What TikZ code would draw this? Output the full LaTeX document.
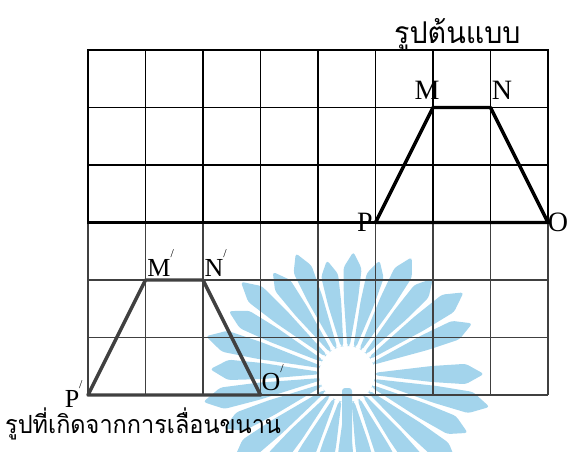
\documentclass[tikz,border=0pt]{standalone}
\usepackage{fontspec}
\setmainfont{Liberation Serif}
\newfontfamily\thaifont[Script=Thai]{Loma}
\definecolor{wmblue}{RGB}{163,212,236}
\definecolor{lowgray}{RGB}{64,64,64}
\newcommand\myprime{\rlap{\raisebox{0.7em}{\fontsize{12}{12}\selectfont /}}}
\begin{document}
\begin{tikzpicture}[x=1pt,y=-1pt,
  topgrid/.style={black,line width=1.8pt},
  topframe/.style={black,line width=2.4pt},
  lowgrid/.style={lowgray,line width=1.8pt},
  shapetop/.style={black,line width=3.4pt,line join=round},
  shapelow/.style={lowgray,line width=3.4pt,line join=round},
  lbl/.style={font=\fontsize{28}{28}\selectfont,inner sep=0pt},
  lbls/.style={font=\fontsize{26}{26}\selectfont,inner sep=0pt},
  wm/.style={fill=wmblue,rounded corners=3pt}]
\useasboundingbox (0,0) rectangle (568,451);
% watermark (background)
\begin{scope}[shift={(347,374)}]
  \foreach \a [count=\i] in {0,13,...,347} {
    \pgfmathsetmacro\R{116+26*abs(cos(\a))+ifthenelse(mod(\i,2)==0,5,-5)}
    \fill[wm] (\a-2.6:28) -- (\a-5.4:0.62*\R) -- (\a-4.9:0.87*\R) -- (\a:\R) -- (\a+4.9:0.87*\R) -- (\a+5.4:0.62*\R) -- (\a+2.6:28) -- cycle;
  }
  \fill[wm] (-5,14) rectangle (5,80);
\end{scope}
% lower grid
\foreach \i in {0,...,8} \draw[lowgrid] ({88+57.5*\i},222.5) -- ({88+57.5*\i},395);
\foreach \j in {1,2,3} \draw[lowgrid] (88,{222.5+57.5*\j}) -- (548,{222.5+57.5*\j});
% upper grid
\foreach \i in {1,...,7} \draw[topgrid] ({88+57.5*\i},50) -- ({88+57.5*\i},222.5);
\foreach \j in {1,2} \draw[topgrid] (88,{50+57.5*\j}) -- (548,{50+57.5*\j});
\draw[topframe] (88,222.5) -- (88,50) -- (548,50) -- (548,222.5) -- cycle;
% original shape
\coordinate (M) at (433,107.5);
\coordinate (N) at (490.5,107.5);
\coordinate (O) at (548,222.5);
\coordinate (P) at (375.5,222.5);
\draw[shapetop] (P) -- (M) -- (N) -- (O) -- cycle;
% translated shape
\coordinate (M2) at (145.5,280);
\coordinate (N2) at (203,280);
\coordinate (O2) at (260.5,395);
\coordinate (P2) at (88,395);
\draw[shapelow] (P2) -- (M2) -- (N2) -- (O2) -- cycle;
% labels
\node[lbl] (lM) at (427,90) {M};
\node[lbl] (lN) at (502,90) {N};
\node[lbl] (lP) at (365,222) {P};
\node[lbl] (lO) at (558,222) {O};
\node[lbls] (lM2) at (159,263) {M\myprime};
\node[lbls] (lN2) at (214,263) {N\myprime};
\node[lbls] (lO2) at (271,378) {O\myprime};
\node[lbls] (lP2) at (72,394) {P\myprime};
\node[inner sep=0pt,anchor=base west,font=\thaifont\fontsize{30}{30}\selectfont] (t1) at (394,43) {\scalebox{0.953}[1]{รูปต้นแบบ}};
\node[inner sep=0pt,anchor=base west,font=\thaifont\fontsize{25}{25}\selectfont] (t2) at (5,433) {\scalebox{0.94}[1]{รูปที่เกิดจากการเลื่อนขนาน}};
\end{tikzpicture}
\end{document}
